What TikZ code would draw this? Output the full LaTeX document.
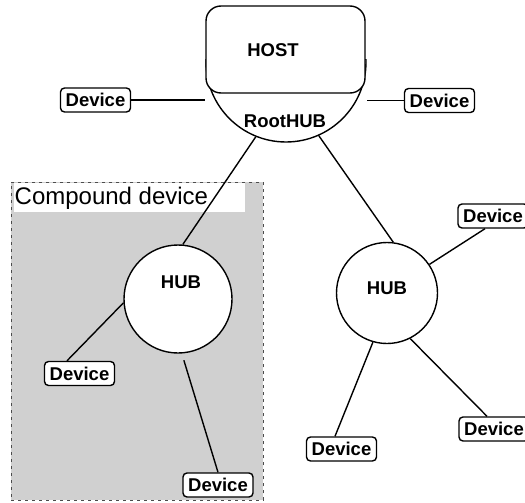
\documentclass[tikz,border=0pt]{standalone}
\usepackage{fontspec}
\setmainfont{Liberation Sans}
\definecolor{cgray}{RGB}{208,208,208}
\tikzset{
  dev/.style={draw, fill=white, line width=1.4pt, rounded corners=4pt, minimum width=70pt, minimum height=24pt, inner sep=0pt, font=\bfseries\fontsize{18.5}{18.5}\selectfont},
  hub/.style={circle, draw, fill=white, line width=1.4pt, inner sep=0pt},
  lbl/.style={font=\bfseries\fontsize{18.5}{18.5}\selectfont, inner sep=0pt},
  conn/.style={line width=1.4pt},
}
\begin{document}
\begin{tikzpicture}[x=1pt,y=-1pt]
\useasboundingbox (0,0) rectangle (525,503);
% compound device area
\node[draw=black!70, fill=cgray, line width=0.7pt, dash pattern=on 3pt off 4pt, minimum width=252pt, minimum height=318pt, inner sep=0pt, anchor=north west] (comp) at (11,182) {};
\node[fill=white, minimum width=231pt, minimum height=29pt, inner sep=0pt, anchor=north west] (comptitle) at (14,183) {};
\node[anchor=west, inner sep=0pt, font=\fontsize{24}{24}\selectfont] (comptext) at (14.5,198) {Compound device};
% host
\begin{scope}
\clip (0,60) rectangle (525,200);
\node[hub, minimum size=160pt] (root) at (286,62) {};
\end{scope}
\node[draw, fill=white, line width=1.4pt, rounded corners=15pt, minimum width=159pt, minimum height=87pt, inner sep=0pt] (host) at (285.5,49.5) {};
\node[lbl] (hosttxt) at (273,50) {HOST};
\node[lbl] (roottxt) at (285,121) {RootHUB};
% hubs
\node[hub, minimum size=108pt] (hubL) at (178,299) {};
\node[lbl] (hubLtxt) at (181,282) {HUB};
\node[hub, minimum size=101pt] (hubR) at (387,293) {};
\node[lbl] (hubRtxt) at (387,288) {HUB};
% devices
\node[dev] (d1) at (95.5,100) {Device};
\node[dev] (d2) at (439.5,100.5) {Device};
\node[dev] (d3) at (493,216) {Device};
\node[dev] (d4) at (494,429) {Device};
\node[dev] (d5) at (341.5,449) {Device};
\node[dev] (d6) at (79.5,373.5) {Device};
\node[dev] (d7) at (218,485) {Device};
% connectors
\draw[conn] (d1.east) -- (d1.east -| root.west);
\draw[conn] (d2.west) -- ([xshift=1pt]host.east |- d2.west);
\draw[conn] (root.248) -- (hubL.85);
\draw[conn] (root.294) -- (hubR.83);
\draw[conn] (hubR.34) -- ([xshift=-8pt]d3.south);
\draw[conn] (hubR.254) -- ([xshift=-6.5pt]d5.north);
\draw[conn] (hubR.297) -- ([xshift=-7pt]d4.north);
\draw[conn] (hubL.184) -- ([xshift=-12.5pt]d6.north);
\draw[conn, shorten <=7pt] (hubL.274) -- (d7.north);
\end{tikzpicture}
\end{document}
